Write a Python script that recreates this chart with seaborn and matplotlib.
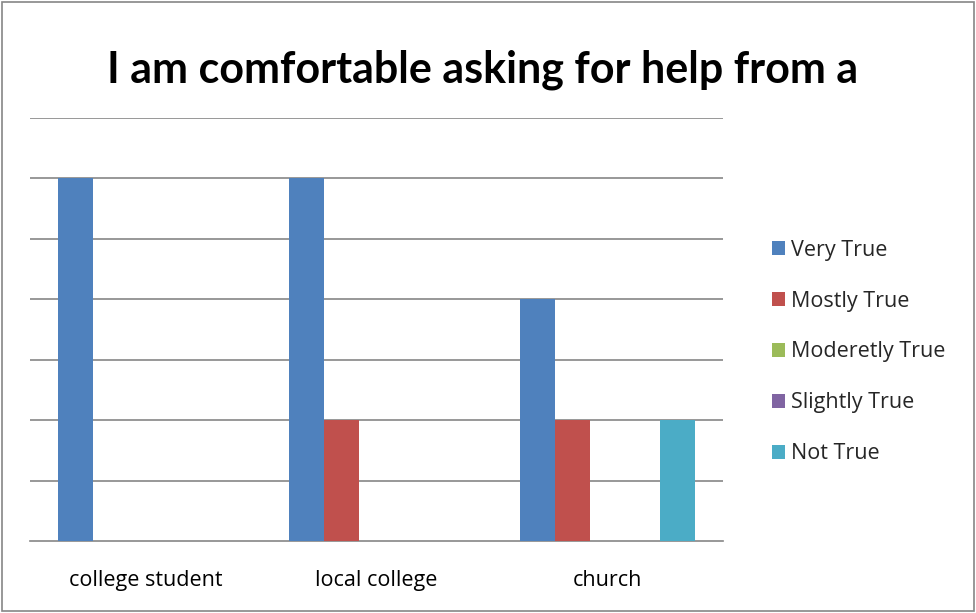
import matplotlib
matplotlib.use("Agg")
import matplotlib.pyplot as plt
import seaborn as sns
import pandas as pd
from matplotlib.patches import Rectangle, Patch

categories = ["college student", "local college", "church"]
series = ["Very True", "Mostly True", "Moderetly True", "Slightly True", "Not True"]
very_true = [6, 6, 4]
mostly_true = [0, 2, 2]
moderetly_true = [0, 0, 0]
slightly_true = [0, 0, 0]
not_true = [0, 0, 2]
colors = ["#4F81BD", "#C0504D", "#9BBB59", "#8064A2", "#4BACC6"]
title = "I am comfortable asking for help from a"

rows = []
for s, vals in zip(series, [very_true, mostly_true, moderetly_true, slightly_true, not_true]):
    for c, v in zip(categories, vals):
        rows.append({"category": c, "series": s, "value": v})
df = pd.DataFrame(rows)

sns.set_style("white")
plt.rcParams["font.family"] = ["Open Sans", "DejaVu Sans"]

fig = plt.figure(figsize=(9.76, 6.13), dpi=100)
ax = fig.add_axes([30/976, 1-541/613, (723-30)/976, (541-118)/613])

sns.barplot(data=df, x="category", y="value", hue="series", hue_order=series,
            order=categories, palette=colors, width=0.76, ax=ax, legend=False,
            saturation=1, edgecolor="none", linewidth=0, zorder=3)

ax.set_ylim(0, 7)
ax.set_xlim(-0.5, 2.5)
ax.set_yticks(range(1, 8))
ax.set_yticklabels([])
ax.tick_params(axis="y", length=0)
ax.grid(axis="y", color="#868686", linewidth=1.2, zorder=0)
for sp in ["top", "right", "left"]:
    ax.spines[sp].set_visible(False)
ax.spines["bottom"].set_color("#868686")
ax.spines["bottom"].set_linewidth(1.2)
ax.set_xlabel("")
ax.set_ylabel("")
ax.set_xticks([0, 1, 2])
ax.set_xticklabels(categories, fontsize=15.5, color="#000000")
ax.set_xticks([-0.5, 0.5, 1.5, 2.5], minor=True)
ax.tick_params(axis="x", which="major", length=0, pad=21)
ax.tick_params(axis="x", which="minor", length=5, color="#868686", width=1.2, direction="out")

handles = [Patch(facecolor=c, edgecolor="none") for c in colors]
fig.legend(handles, series, loc="upper left", bbox_to_anchor=(763/976, 1-231/613),
           frameon=False, fontsize=15.5, handlelength=0.6, handleheight=0.6,
           handletextpad=0.3, labelspacing=1.39, borderaxespad=0)

fig.text(483/976, 1-70/613, title, ha="center", va="center", fontsize=31,
         fontweight="bold", color="#000000", family=["Lato", "DejaVu Sans"])

fig.patches.append(Rectangle((0.002, 0.003), 0.996, 0.994, transform=fig.transFigure,
                             fill=False, edgecolor="#868686", linewidth=1.2))

fig.savefig("out.png", dpi=100)
